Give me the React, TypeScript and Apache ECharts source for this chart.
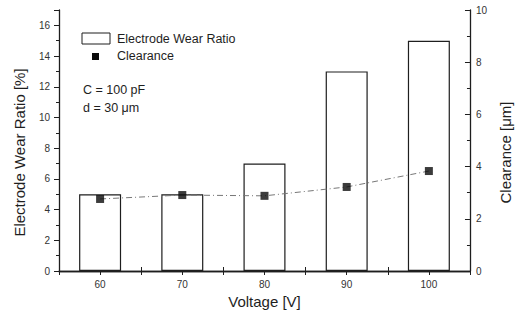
import React, { useEffect, useRef } from "react";
import * as echarts from "echarts";

const voltages = ["60", "70", "80", "90", "100"];
const wearRatio = [5, 5, 7, 13, 15];
const clearance = [2.76, 2.91, 2.88, 3.22, 3.83];
const leftTicks = { min: 0, max: 17, interval: 2 };
const rightTicks = { min: 0, max: 10, interval: 2 };

const FONT = "'Liberation Sans', Arial, Helvetica, sans-serif";
const INK = "#1e1e1e";

export default function App() {
  const ref = useRef<HTMLDivElement>(null);

  useEffect(() => {
    if (!ref.current) return;
    const chart = echarts.init(ref.current, undefined, { renderer: "svg" });

    const axisLine = { show: true, lineStyle: { color: INK, width: 1.3 } };

    chart.setOption({
      animation: false,
      backgroundColor: "#ffffff",
      textStyle: { fontFamily: FONT },
      grid: { left: 59, right: 49, top: 10, bottom: 49 },
      xAxis: [
        {
          type: "category",
          data: voltages,
          position: "bottom",
          boundaryGap: true,
          name: "Voltage [V]",
          nameLocation: "middle",
          nameGap: 21,
          nameTextStyle: { fontSize: 15, color: INK, fontFamily: FONT },
          axisLine,
          axisTick: { show: true, inside: true, length: 4, lineStyle: { color: INK } },
          axisLabel: { fontSize: 10, color: "#333", margin: 8, fontFamily: FONT },
          splitLine: { show: false },
        },
        {
          type: "value",
          position: "top",
          min: 55,
          max: 105,
          interval: 5,
          axisLine,
          axisTick: { show: true, inside: true, length: 4, lineStyle: { color: INK } },
          axisLabel: { show: false },
          splitLine: { show: false },
        },
      ],
      yAxis: [
        {
          type: "value",
          position: "left",
          min: leftTicks.min,
          max: leftTicks.max,
          interval: leftTicks.interval,
          name: "Electrode Wear Ratio [%]",
          nameLocation: "middle",
          nameRotate: 90,
          nameGap: 32,
          nameTextStyle: { fontSize: 15, color: INK, fontFamily: FONT, padding: [0, 24, 0, 0] },
          axisLine,
          axisTick: { show: true, inside: false, length: 5, lineStyle: { color: INK } },
          minorTick: { show: true, splitNumber: 2, length: 3, lineStyle: { color: INK } },
          axisLabel: { fontSize: 10, color: "#333", margin: 9, showMaxLabel: false, fontFamily: FONT },
          splitLine: { show: false },
        },
        {
          type: "value",
          position: "right",
          min: rightTicks.min,
          max: rightTicks.max,
          interval: rightTicks.interval,
          name: "Clearance [μm]",
          nameLocation: "middle",
          nameRotate: 90,
          nameGap: 24,
          nameTextStyle: { fontSize: 15, color: INK, fontFamily: FONT, padding: [0, 24, 0, 0] },
          axisLine,
          axisTick: { show: true, inside: true, length: 5, lineStyle: { color: INK } },
          minorTick: { show: true, splitNumber: 2, length: 3, lineStyle: { color: INK } },
          axisLabel: { fontSize: 10, color: "#333", margin: 6, fontFamily: FONT },
          splitLine: { show: false },
        },
      ],
      series: [
        {
          name: "Electrode Wear Ratio",
          type: "bar",
          xAxisIndex: 0,
          yAxisIndex: 0,
          data: wearRatio,
          barWidth: 42,
          itemStyle: { color: "#ffffff", borderColor: INK, borderWidth: 1.2 },
          z: 2,
        },
        {
          name: "Clearance trend",
          type: "line",
          xAxisIndex: 0,
          yAxisIndex: 1,
          data: clearance,
          symbol: "none",
          lineStyle: { color: "#777", width: 1, type: [6, 3, 1, 3] },
          z: 3,
        },
        {
          name: "Clearance",
          type: "scatter",
          xAxisIndex: 0,
          yAxisIndex: 1,
          data: clearance,
          symbol: "rect",
          symbolSize: 8,
          itemStyle: { color: "#0a0a0a" },
          z: 4,
        },
      ],
      graphic: [
        {
          type: "rect",
          shape: { x: 82, y: 33, width: 28, height: 11 },
          style: { fill: "#fff", stroke: INK, lineWidth: 1 },
        },
        {
          type: "text",
          x: 117,
          y: 39,
          style: { text: "Electrode Wear Ratio", font: `12.5px ${FONT}`, fill: INK, verticalAlign: "middle" },
        },
        {
          type: "rect",
          shape: { x: 92, y: 53, width: 7, height: 7 },
          style: { fill: "#0a0a0a" },
        },
        {
          type: "text",
          x: 117,
          y: 56,
          style: { text: "Clearance", font: `12.5px ${FONT}`, fill: INK, verticalAlign: "middle" },
        },
        {
          type: "text",
          x: 83,
          y: 90,
          style: { text: "C = 100 pF", font: `12.5px ${FONT}`, fill: INK, verticalAlign: "middle" },
        },
        {
          type: "text",
          x: 83,
          y: 108,
          style: { text: "d = 30 μm", font: `12.5px ${FONT}`, fill: INK, verticalAlign: "middle" },
        },
      ],
    });

    return () => chart.dispose();
  }, []);

  return (
    <div
      ref={ref}
      style={{ position: "fixed", left: 0, top: 0, width: 521, height: 320 }}
    />
  );
}
